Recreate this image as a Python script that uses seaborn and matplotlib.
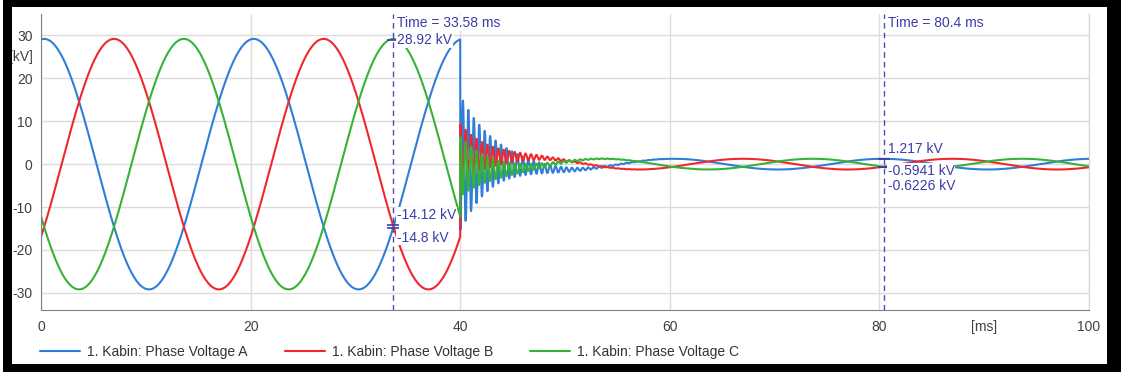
import numpy as np
import pandas as pd
import seaborn as sns
import matplotlib.pyplot as plt
from matplotlib.patches import Rectangle
from matplotlib.ticker import MultipleLocator

# Values
PHASES = ['1. Kabin: Phase Voltage A', '1. Kabin: Phase Voltage B', '1. Kabin: Phase Voltage C']
COLORS = ['#2f7ed8', '#f0282d', '#36b336']
MAINS_PERIOD_MS = 20.0
PEAK_TIME_MS = [0.3, 6.97, 13.63]        # first crest of each phase
PRE_FAULT_KV = 29.2                       # crest before the fault
POST_FAULT_KV = 1.25                      # crest after the fault
FAULT_MS = 40.0
RING_KV = [16.0, 6.5, 7.0]                # first swing of the ringing after the fault
RING_OFFSET_KV = [-1.2, 3.7, 0.0]
RING_PHASE = [np.pi, 0.0, 0.0]
RING_PERIOD_MS = 0.52
RING_DECAY_MS = 3.0
SAMPLE_MS = 0.02
CURSOR_MS = [33.58, 80.4]
CURSOR_KV = [[28.92, -14.12, -14.8], [1.217, -0.5941, -0.6226]]
LABEL_SHIFT_PX = [[0, 10, -10], [10, -4, -19]]

# Build the recorded signals
t = np.arange(0, 100 + SAMPLE_MS / 2, SAMPLE_MS)
frames = []
for i, name in enumerate(PHASES):
    wave = np.cos(2 * np.pi * (t - PEAK_TIME_MS[i]) / MAINS_PERIOD_MS)
    after = t - FAULT_MS
    decay = np.exp(-np.clip(after, 0, None) / RING_DECAY_MS)
    ring = RING_OFFSET_KV[i] + RING_KV[i] * np.cos(2 * np.pi * after / RING_PERIOD_MS + RING_PHASE[i])
    kv = np.where(t <= FAULT_MS, PRE_FAULT_KV * wave, POST_FAULT_KV * wave + decay * ring)
    frames.append(pd.DataFrame({'t': t, 'kV': kv, 'phase': name}))
df = pd.concat(frames, ignore_index=True)

sns.set_style('white')
plt.rcParams['font.family'] = ['Liberation Sans', 'DejaVu Sans']
plt.rcParams['axes.unicode_minus'] = False
FS = 10

W, H = 1121, 376
fig = plt.figure(figsize=(W / 100, H / 100), dpi=100)
fig.patch.set_facecolor('white')
ax = fig.add_axes([41 / W, 66 / H, 1048 / W, 296 / H])

sns.lineplot(data=df, x='t', y='kV', hue='phase', palette=COLORS, linewidth=1.5,
             estimator=None, ax=ax)

ax.set_xlim(0, 100)
ax.set_ylim(-34, 35)
ax.xaxis.set_major_locator(MultipleLocator(20))
ax.xaxis.set_minor_locator(MultipleLocator(5))
ax.yaxis.set_major_locator(MultipleLocator(10))
ax.yaxis.set_minor_locator(MultipleLocator(2))
ax.grid(True, which='major', color='#dcdcdc', linewidth=1)
ax.tick_params(which='major', length=0, labelsize=FS, labelcolor='#404040')
ax.tick_params(axis='x', which='major', pad=7)
ax.tick_params(axis='y', which='major', pad=6)
ax.tick_params(which='minor', direction='in', length=5, color='#a0a0a0', width=0.8)
ax.set_xlabel('')
ax.set_ylabel('')
for side in ['left', 'bottom']:
    ax.spines[side].set_color('#808080')
ax.spines['top'].set_visible(False)
ax.spines['right'].set_color('#d4d4d4')

ax.annotate('[kV]', xy=(0, 25), xycoords=('axes fraction', 'data'), xytext=(-6, 0),
            textcoords='offset points', ha='right', va='center', fontsize=FS, color='#404040')
ax.annotate('[ms]', xy=(90, 0), xycoords=('data', 'axes fraction'), xytext=(0, -7),
            textcoords='offset points', ha='center', va='top', fontsize=FS, color='#404040')

# Measurement cursors
cur_color = '#3c3ca8'
box = dict(facecolor='white', edgecolor='none', pad=0.5)
for tc, vals, shifts in zip(CURSOR_MS, CURSOR_KV, LABEL_SHIFT_PX):
    ax.axvline(tc, color='#4b4bc0', linestyle=(0, (4, 3)), linewidth=1, zorder=3)
    ax.plot([tc] * len(vals), vals, linestyle='none', marker='_', markersize=9,
            markeredgewidth=1.2, color=cur_color, zorder=4)
    ax.annotate(f'Time = {tc:g} ms', xy=(tc, 1), xycoords=('data', 'axes fraction'),
                xytext=(3, -6.5), textcoords='offset points', ha='left', va='center',
                fontsize=FS, color=cur_color, bbox=box, zorder=5)
    for v, s in zip(vals, shifts):
        ax.annotate(f'{v:g} kV', xy=(tc, v), xytext=(3, s * 0.72), textcoords='offset points',
                    ha='left', va='center', fontsize=FS, color=cur_color, bbox=box, zorder=5)

handles, labels = ax.get_legend_handles_labels()
leg = ax.legend(handles, labels, loc='center left', bbox_to_anchor=(40 / W, 24 / H),
                bbox_transform=fig.transFigure, ncol=3, frameon=False, handlelength=2.9,
                handletextpad=0.5, columnspacing=2.65, fontsize=FS, borderaxespad=0, borderpad=0)
for txt in leg.get_texts():
    txt.set_color('#333333')

# Black screenshot frame
for x0, y0, x1, y1 in [(3, 0, 1121, 7), (3, 0, 12, 372), (1107, 0, 1121, 372), (3, 364, 1121, 372)]:
    fig.patches.append(Rectangle((x0 / W, 1 - y1 / H), (x1 - x0) / W, (y1 - y0) / H,
                                 transform=fig.transFigure, facecolor='black',
                                 edgecolor='none', zorder=10))

fig.savefig('out.png', dpi=100)
